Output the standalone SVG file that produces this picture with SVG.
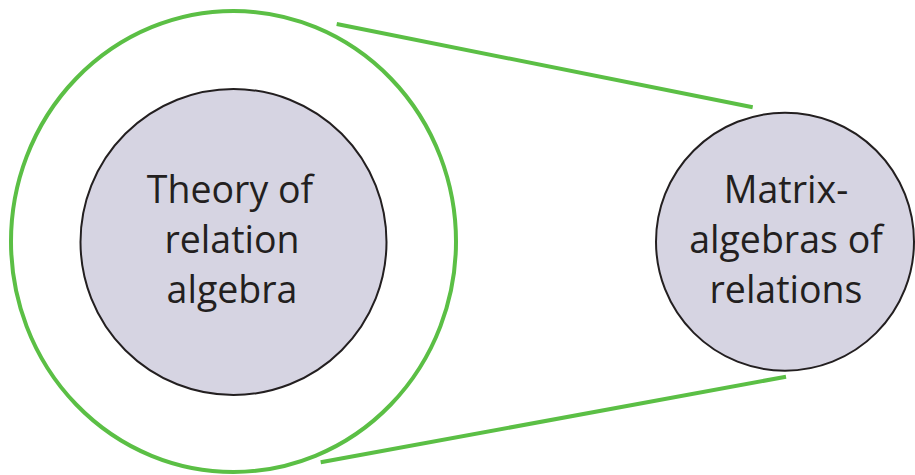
<svg xmlns="http://www.w3.org/2000/svg" width="915" height="475" viewBox="0 0 915 475">
  <style>
    .ring { fill: none; stroke: #5bbf45; stroke-width: 4; }
    .link { stroke: #5bbf45; stroke-width: 4; fill: none; }
    .disc { fill: #d6d4e2; stroke: #231f20; stroke-width: 2; }
    .label { font-family: "Open Sans", "Liberation Sans", sans-serif; font-size: 37.5px; fill: #231f20; text-anchor: middle; }
  </style>
  <rect width="915" height="475" fill="#ffffff"/>

  <!-- outer boundary around the theory -->
  <g id="outer-ring">
    <ellipse class="ring" cx="233.5" cy="241.5" rx="222.5" ry="230.5"/>
  </g>

  <!-- inner theory node -->
  <g id="theory">
    <circle class="disc" cx="233.5" cy="242" r="153"/>
    <text class="label" x="230" y="203">Theory of</text>
    <text class="label" x="232" y="253">relation</text>
    <text class="label" x="232" y="303">algebra</text>
  </g>

  <!-- matrix algebras node -->
  <g id="matrix">
    <circle class="disc" cx="785" cy="241.7" r="129"/>
    <text class="label" x="786" y="203">Matrix-</text>
    <text class="label" x="786" y="253">algebras of</text>
    <text class="label" x="786" y="303">relations</text>
  </g>

  <!-- projection lines -->
  <g id="connectors">
    <line class="link" x1="336.7" y1="24" x2="752.7" y2="107.3"/>
    <line class="link" x1="320.7" y1="462.3" x2="786" y2="376.7"/>
  </g>
</svg>
